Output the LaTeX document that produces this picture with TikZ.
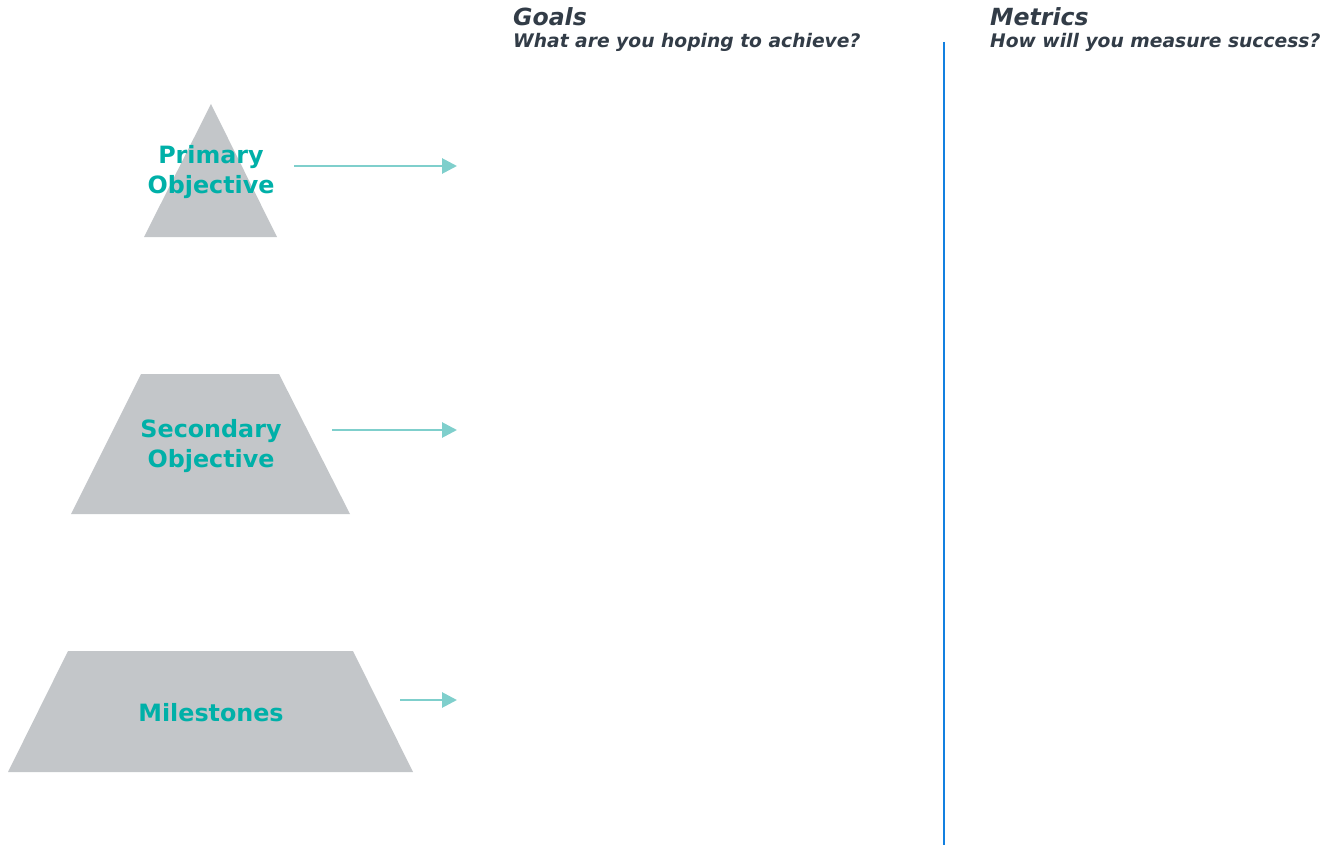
\documentclass[tikz,border=0pt]{standalone}
\usepackage{fontspec}
\setmainfont{DejaVu Sans}
\usetikzlibrary{arrows.meta}
\definecolor{shapegray}{HTML}{C3C6C9}
\definecolor{teal}{HTML}{00B0A8}
\definecolor{arrowteal}{HTML}{7FCFCC}
\definecolor{headdark}{HTML}{323C47}
\definecolor{lineblue}{HTML}{1380E0}
\tikzset{
  tier/.style={fill=shapegray, draw=none},
  tierlabel/.style={text=teal, font=\fontsize{23.8}{30}\selectfont\bfseries, align=center, inner sep=0pt},
  head/.style={text=headdark, anchor=base west, inner sep=0pt, font=\fontsize{23.6}{28}\selectfont\bfseries\itshape},
  subhead/.style={text=headdark, anchor=base west, inner sep=0pt, font=\fontsize{18.7}{22}\selectfont\bfseries\itshape},
  flow/.style={draw=arrowteal, line width=2.8pt, -{Triangle[length=15pt,width=15pt]}},
}
\begin{document}
\begin{tikzpicture}[x=1pt,y=-1pt]
\useasboundingbox (0,0) rectangle (1333,845);
% shapes
\fill[tier] (211,104) -- (277,237) -- (144,237) -- cycle;
\fill[tier] (141,374) -- (279,374) -- (350,514) -- (71,514) -- cycle;
\fill[tier] (68,651) -- (353,651) -- (413,772) -- (8,772) -- cycle;
% labels
\node[tierlabel] (primary) at (211,172) {Primary\\Objective};
\node[tierlabel] (secondary) at (211,446) {Secondary\\Objective};
\node[tierlabel] (milestones) at (211,713) {Milestones};
% headers
\node[head] (goals) at (513,26) {Goals};
\node[subhead] (goalsq) at (513,48) {What are you hoping to achieve?};
\node[head] (metrics) at (990,26) {Metrics};
\node[subhead] (metricsq) at (990,48) {How will you measure success?};
% divider
\coordinate (divtop) at (944,42);
\coordinate (divbot) at (944,845);
\draw[lineblue, line width=1.5pt] (divtop) -- (divbot);
% arrows
\coordinate (a1s) at (294,166); \coordinate (a1e) at (457,166);
\coordinate (a2s) at (332,430); \coordinate (a2e) at (457,430);
\coordinate (a3s) at (400,700); \coordinate (a3e) at (457,700);
\draw[flow] (a1s) -- (a1e);
\draw[flow] (a2s) -- (a2e);
\draw[flow] (a3s) -- (a3e);
\end{tikzpicture}
\end{document}
